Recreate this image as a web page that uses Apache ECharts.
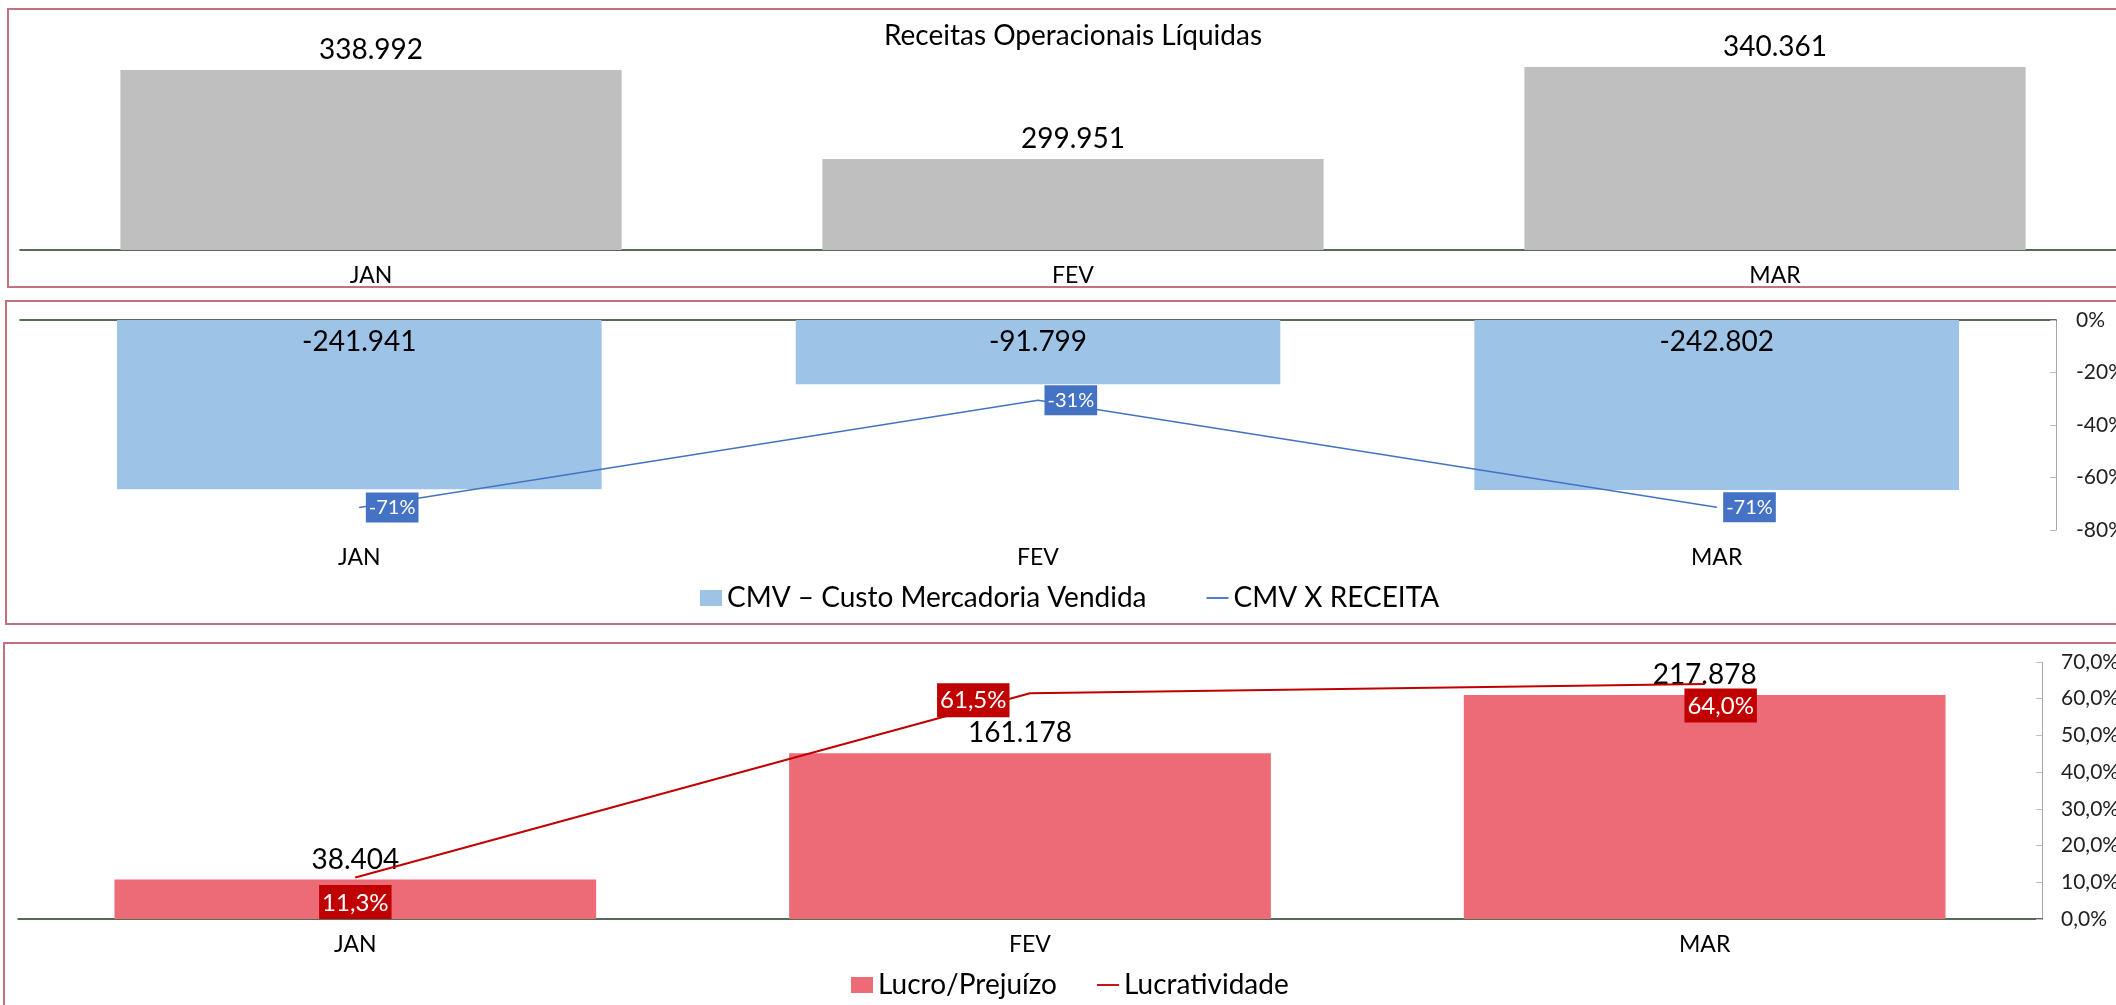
<!DOCTYPE html>
<html>
<head>
<meta charset="utf-8">
<title>Receitas, CMV e Lucratividade</title>
<script src="https://cdn.jsdelivr.net/npm/echarts@6/dist/echarts.min.js"></script>
<style>
    html, body { margin: 0; padding: 0; background: #fff; }
    #chart { width: 2116px; height: 1005px; }
</style>
</head>
<body>
<div id="chart"></div>
<script>
    // dados
    const meses = ['JAN', 'FEV', 'MAR'];
    const receitas = [338992, 299951, 340361];
    const cmv = [-241941, -91799, -242802];
    const cmvXReceita = [-71.4, -30.6, -71.3];   // %
    const lucro = [38404, 161178, 217878];
    const lucratividade = [11.3, 61.5, 64.0];     // %

    const nomeCmv = 'CMV – Custo Mercadoria Vendida';
    const nomeCmvRec = 'CMV X RECEITA';
    const nomeLucro = 'Lucro/Prejuízo';
    const nomeLucrat = 'Lucratividade';

    // posições dos rótulos (como no Excel)
    const lucratLabelPos = [
        {position: 'bottom', distance: 7},
        {position: 'left', distance: 20, offset: [0, 7]},
        {position: 'bottom', distance: 4, offset: [16, 0]}
    ];
    const lucroLabelPos = [
        {},
        {offset: [-10, 0]},
        {}
    ];

    const eixoVerde = '#1f3a1f';
    const eixoCinza = '#a6a6a6';
    const iconeLinha = 'path://M0,0H24V2H0Z';

    function milhar(v) {
        return String(v).replace(/\B(?=(\d{3})+(?!\d))/g, '.');
    }

    function pct1(v) {
        return v.toFixed(1).replace('.', ',') + '%';
    }

    const chart = echarts.init(document.getElementById('chart'));

    const option = {
        animation: false,
        backgroundColor: '#fff',
        textStyle: {fontFamily: 'Lato', color: '#000'},
        title: {
            text: 'Receitas Operacionais Líquidas',
            left: 1073,
            top: 22,
            padding: 0,
            textAlign: 'center',
            textStyle: {fontSize: 28, fontWeight: 'normal', color: '#000', fontFamily: 'Lato'}
        },
        legend: [
            {
                left: 700,
                top: 584,
                padding: 0,
                itemWidth: 22,
                itemHeight: 16,
                itemGap: 60,
                textStyle: {fontSize: 28, color: '#000'},
                data: [{name: nomeCmv, icon: 'rect'}, {name: nomeCmvRec, icon: iconeLinha}]
            },
            {
                left: 851,
                top: 971,
                padding: 0,
                itemWidth: 22,
                itemHeight: 16,
                itemGap: 40,
                textStyle: {fontSize: 28, color: '#000'},
                data: [{name: nomeLucro, icon: 'rect'}, {name: nomeLucrat, icon: iconeLinha}]
            }
        ],
        grid: [
            {left: 20, top: 45, width: 2106, height: 205, outerBoundsMode: 'none'},
            {left: 20, top: 320, width: 2036, height: 210, outerBoundsMode: 'none'},
            {left: 18, top: 662, width: 2024, height: 257, outerBoundsMode: 'none'}
        ],
        xAxis: [
            {
                type: 'category', gridIndex: 0, data: meses,
                axisLine: {onZero: false, lineStyle: {color: eixoVerde, width: 1.5}},
                axisTick: {show: false},
                axisLabel: {fontSize: 23, color: '#000', margin: 14}
            },
            {
                type: 'category', gridIndex: 1, data: meses, position: 'bottom',
                axisLine: {show: false, onZero: false},
                axisTick: {show: false},
                axisLabel: {fontSize: 23, color: '#000', margin: 16}
            },
            {
                type: 'category', gridIndex: 1, data: meses, position: 'top',
                axisLine: {onZero: false, lineStyle: {color: eixoVerde, width: 1.5}},
                axisTick: {show: false},
                axisLabel: {show: false}
            },
            {
                type: 'category', gridIndex: 2, data: meses,
                axisLine: {onZero: false, lineStyle: {color: eixoVerde, width: 1.5}},
                axisTick: {show: false},
                axisLabel: {fontSize: 23, color: '#000', margin: 14}
            }
        ],
        yAxis: [
            {type: 'value', gridIndex: 0, min: 260000, max: 350000, show: false},
            {type: 'value', gridIndex: 1, min: -300000, max: 0, show: false},
            {
                type: 'value', gridIndex: 1, position: 'right', min: -80, max: 0, interval: 20,
                axisLine: {show: true, lineStyle: {color: eixoCinza}},
                axisTick: {show: true, inside: true, length: 6, lineStyle: {color: '#bfbfbf'}},
                splitLine: {show: false},
                axisLabel: {fontSize: 21, color: '#222', margin: 20, formatter: v => Math.round(v) + '%'}
            },
            {type: 'value', gridIndex: 2, min: 0, max: 250000, show: false},
            {
                type: 'value', gridIndex: 2, position: 'right', min: 0, max: 70, interval: 10,
                axisLine: {show: true, lineStyle: {color: eixoCinza}},
                axisTick: {show: true, inside: true, length: 6, lineStyle: {color: '#bfbfbf'}},
                splitLine: {show: false},
                axisLabel: {fontSize: 21, color: '#222', margin: 19, formatter: v => pct1(v)}
            }
        ],
        series: [
            {
                name: 'Receitas Operacionais Líquidas',
                type: 'bar',
                xAxisIndex: 0,
                yAxisIndex: 0,
                barWidth: '71.4%',
                data: receitas,
                itemStyle: {color: '#bfbfbf'},
                label: {
                    show: true, position: 'top', distance: 6,
                    fontSize: 28, color: '#000',
                    formatter: p => milhar(p.value)
                }
            },
            {
                name: nomeCmv,
                type: 'bar',
                xAxisIndex: 1,
                yAxisIndex: 1,
                barWidth: '71.4%',
                data: cmv,
                itemStyle: {color: '#9dc3e6'},
                label: {
                    show: true, position: 'insideTop', distance: 8,
                    fontSize: 28, color: '#000',
                    formatter: p => milhar(p.value)
                }
            },
            {
                name: nomeCmvRec,
                type: 'line',
                xAxisIndex: 1,
                yAxisIndex: 2,
                data: cmvXReceita,
                symbol: 'circle',
                symbolSize: 1,
                color: '#4472c4',
                lineStyle: {color: '#4472c4', width: 1.5},
                z: 5,
                label: {
                    show: true, position: 'right', distance: 6,
                    fontSize: 20, color: '#fff',
                    backgroundColor: '#4472c4',
                    padding: [6, 3, 4, 3],
                    formatter: p => Math.round(p.value) + '%'
                }
            },
            {
                name: nomeLucro,
                type: 'bar',
                xAxisIndex: 3,
                yAxisIndex: 3,
                barWidth: '71.4%',
                data: lucro.map((v, i) => ({value: v, label: lucroLabelPos[i]})),
                itemStyle: {color: '#ed6a77'},
                label: {
                    show: true, position: 'top', distance: 6,
                    fontSize: 28, color: '#000',
                    formatter: p => milhar(p.value)
                }
            },
            {
                name: nomeLucrat,
                type: 'line',
                xAxisIndex: 3,
                yAxisIndex: 4,
                data: lucratividade.map((v, i) => ({value: v, label: lucratLabelPos[i]})),
                symbol: 'circle',
                symbolSize: 1,
                color: '#c00000',
                lineStyle: {color: '#c00000', width: 2},
                z: 5,
                label: {
                    show: true,
                    fontSize: 24, color: '#fff',
                    backgroundColor: '#c00000',
                    padding: [6, 3, 4, 3],
                    formatter: p => pct1(p.value)
                }
            }
        ],
        graphic: [
            // molduras dos três painéis
            {type: 'rect', silent: true, z: 100, shape: {x: 8, y: 9, width: 2200, height: 278},
                style: {fill: 'none', stroke: '#c0737d', lineWidth: 2}},
            {type: 'rect', silent: true, z: 100, shape: {x: 6, y: 301, width: 2200, height: 323},
                style: {fill: 'none', stroke: '#c0737d', lineWidth: 2}},
            {type: 'rect', silent: true, z: 100, shape: {x: 4, y: 643, width: 2200, height: 500},
                style: {fill: 'none', stroke: '#c0737d', lineWidth: 2}}
        ]
    };

    chart.setOption(option);
</script>
</body>
</html>
